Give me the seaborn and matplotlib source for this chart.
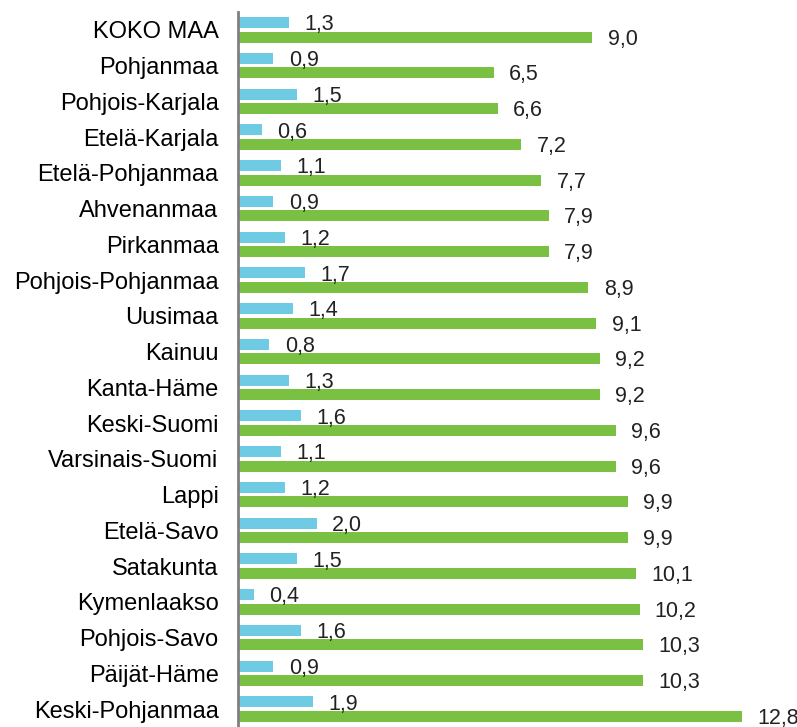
import pandas as pd
import matplotlib.pyplot as plt
import seaborn as sns

# Data
alueet = ['KOKO MAA', 'Pohjanmaa', 'Pohjois-Karjala', 'Etelä-Karjala',
          'Etelä-Pohjanmaa', 'Ahvenanmaa', 'Pirkanmaa', 'Pohjois-Pohjanmaa',
          'Uusimaa', 'Kainuu', 'Kanta-Häme', 'Keski-Suomi', 'Varsinais-Suomi',
          'Lappi', 'Etelä-Savo', 'Satakunta', 'Kymenlaakso', 'Pohjois-Savo',
          'Päijät-Häme', 'Keski-Pohjanmaa']
sininen = [1.3, 0.9, 1.5, 0.6, 1.1, 0.9, 1.2, 1.7, 1.4, 0.8,
           1.3, 1.6, 1.1, 1.2, 2.0, 1.5, 0.4, 1.6, 0.9, 1.9]
vihrea = [9.0, 6.5, 6.6, 7.2, 7.7, 7.9, 7.9, 8.9, 9.1, 9.2,
          9.2, 9.6, 9.6, 9.9, 9.9, 10.1, 10.2, 10.3, 10.3, 12.8]

df = pd.DataFrame({
    'alue': alueet * 2,
    'arvo': sininen + vihrea,
    'sarja': ['a'] * len(alueet) + ['b'] * len(alueet),
})

plt.rcParams['font.family'] = ['Liberation Sans', 'DejaVu Sans']

fig, ax = plt.subplots(figsize=(7.97, 7.27), dpi=100)
fig.subplots_adjust(left=238 / 797, right=1.0, top=1 - 12 / 727, bottom=0)

sns.barplot(data=df, y='alue', x='arvo', hue='sarja', orient='h',
            palette=['#6ECBE3', '#7AC143'], saturation=1, width=0.8, gap=0.23,
            linewidth=0, legend=False, ax=ax)

for cont in ax.containers:
    vals = [b.get_width() for b in cont]
    texts = ax.bar_label(cont, labels=[f"{v:.1f}".replace('.', ',') for v in vals],
                         padding=11, fontsize=15.5, color='#222222')
    # labels sit a little below the bar centre in the original
    for t in texts:
        t.xyann = (11, -1.5)

ax.set_xlim(0, 14.2)
ax.set_ylim(19.5, -0.5)
ax.set_xlabel('')
ax.set_ylabel('')
ax.set_xticks([])
ax.tick_params(axis='y', length=0, pad=14, labelsize=17)
for s in ['top', 'right', 'bottom']:
    ax.spines[s].set_visible(False)
ax.spines['left'].set_color('#808080')
ax.spines['left'].set_linewidth(2)

plt.savefig('out.png', dpi=100)
